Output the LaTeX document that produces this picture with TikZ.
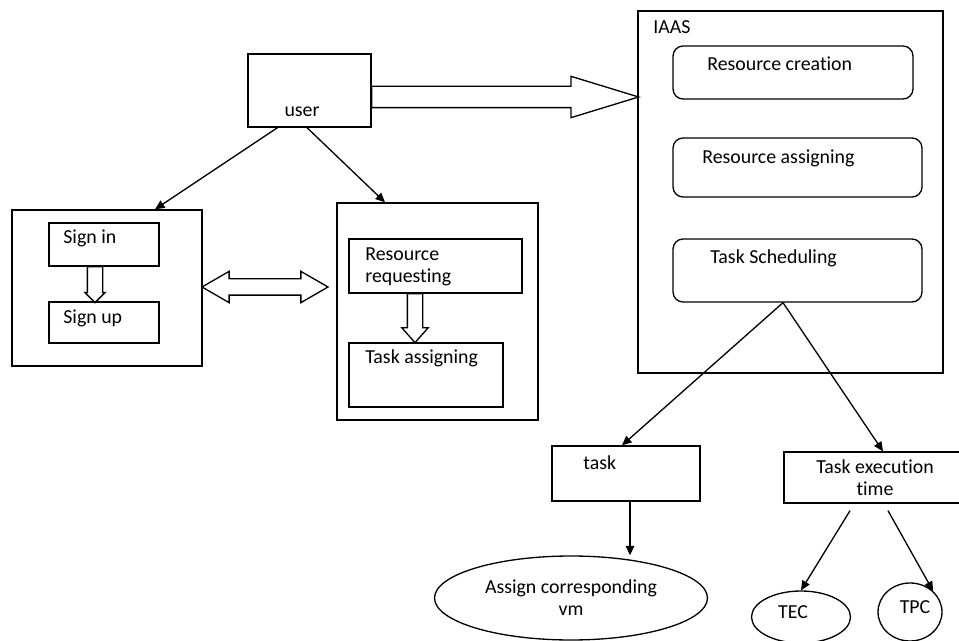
\documentclass[tikz,border=0pt]{standalone}
\usepackage{fontspec}
\setmainfont{Carlito}[Ligatures=NoCommon]
\usepackage{tikz}
\usetikzlibrary{arrows.meta,shapes.geometric,shapes.arrows}
\newcommand{\diagfont}{\fontsize{11.3}{12.5}\selectfont}

\begin{document}
\begin{tikzpicture}[
  x=0.02cm, y=-0.02cm,
  box/.style={draw, line width=0.75pt, inner sep=0pt},
  roundbox/.style={box, rounded corners=0.2cm},
  oval/.style={draw, ellipse, line width=0.75pt, inner sep=0pt, align=center, font=\diagfont},
  lbl/.style={inner sep=0pt, font=\diagfont, align=left},
  arr/.style={-{Triangle[length=1.9mm,width=1.7mm]}, line width=0.75pt},
  hollow/.style={draw, single arrow, line width=0.75pt, outer sep=0pt}
]
  \useasboundingbox (0,0) rectangle (959,641);

  % user and the IAAS side
  \node[box, minimum width=2.46cm, minimum height=1.46cm] (user) at (309.5,90.5) {};
  \node[lbl] (usertxt) at (302,112) {user};
  \node[box, minimum width=6.10cm, minimum height=7.24cm] (iaas) at (790.5,192) {};
  \node[lbl, anchor=west] (iaastxt) at (653,27) {IAAS};
  \node[roundbox, minimum width=4.80cm, minimum height=1.06cm] (rescreate) at (793,72.5) {};
  \node[lbl, anchor=west] (rescreatetxt) at (707,64) {Resource creation};
  \node[roundbox, minimum width=4.98cm, minimum height=1.18cm] (resassign) at (797.5,167.5) {};
  \node[lbl, anchor=west] (resassigntxt) at (702,158) {Resource assigning};
  \node[roundbox, minimum width=4.98cm, minimum height=1.26cm] (tasksched) at (797.5,270.5) {};
  \node[lbl, anchor=west] (taskschedtxt) at (710,258) {Task Scheduling};

  % sign in / sign up
  \node[box, minimum width=3.80cm, minimum height=3.12cm] (signbox) at (107,288) {};
  \node[box, minimum width=2.20cm, minimum height=0.86cm] (signin) at (104,244.5) {};
  \node[lbl, anchor=west] (signintxt) at (63,238) {Sign in};
  \node[box, minimum width=2.20cm, minimum height=0.82cm] (signup) at (104,322.5) {};
  \node[lbl, anchor=west] (signuptxt) at (63,318) {Sign up};

  % requesting side
  \node[box, minimum width=4.02cm, minimum height=4.34cm] (midbox) at (437.5,311.5) {};
  \node[box, minimum width=3.46cm, minimum height=1.08cm] (resreq) at (435.5,266) {};
  \node[lbl, anchor=west] (resreqtxt) at (365,267) {Resource\\requesting};
  \node[box, minimum width=3.08cm, minimum height=1.28cm] (taskassign) at (426,375) {};
  \node[lbl, anchor=west] (taskassigntxt) at (365,358) {Task assigning};

  % lower part
  \node[box, minimum width=2.96cm, minimum height=1.10cm] (task) at (626,473.5) {};
  \node[lbl, anchor=west] (tasktxt) at (583,463) {task};
  \node[box, minimum width=3.64cm, minimum height=1.02cm, align=center, font=\diagfont] (exectime) at (875,477.5) {Task execution\\time};
  \node[oval, minimum width=5.46cm, minimum height=1.68cm] (vm) at (571,598) {Assign corresponding\\vm};
  \node[oval, minimum width=1.98cm, minimum height=1.04cm] (tec) at (801,617) {};
  \node[lbl] (tectxt) at (793,612) {TEC};
  \node[oval, minimum width=1.28cm, minimum height=1.16cm] (tpc) at (910,612) {};
  \node[lbl] (tpctxt) at (915,607) {TPC};

  % block arrows
  \node[hollow, minimum height=5.34cm, single arrow head extend=0.2cm, single arrow tip angle=34, inner sep=0.2cm, anchor=tail] (bigarrow) at ([yshift=-0.13cm]user.east) {};
  \node[draw, double arrow, line width=0.75pt, minimum height=2.52cm, double arrow head extend=0.15cm, double arrow tip angle=60, inner sep=0.15cm] (linkarrow) at (265,287) {};
  \node[hollow, shape border rotate=270, minimum height=0.72cm, single arrow head extend=0.05cm, single arrow tip angle=90, inner sep=0.14cm, anchor=tail] (signarrow) at ([xshift=-0.18cm]signin.south) {};
  \node[hollow, shape border rotate=270, minimum height=0.98cm, single arrow head extend=0.11cm, single arrow tip angle=83, inner sep=0.14cm, anchor=tail] (reqarrow) at ([xshift=-0.41cm]resreq.south) {};

  % connectors
  \draw[arr] ([xshift=-0.64cm]user.south) -- ([xshift=0.96cm]signbox.north);
  \draw[arr] ([xshift=-0.05cm]user.south) -- ([xshift=-1.05cm]midbox.north);
  \coordinate (fork) at ([xshift=-0.29cm]tasksched.south);
  \draw[arr] (fork) -- ([xshift=-0.08cm]task.north);
  \draw[arr] (fork) -- ([xshift=0.16cm]exectime.north);
  \coordinate (drop) at ([xshift=0.08cm]task.south);
  \draw[arr] (drop) -- (drop |- vm.north);
  \draw[arr] ([xshift=-0.5cm,yshift=-0.14cm]exectime.south) -- (tec.north);
  \draw[arr] ([xshift=0.26cm,yshift=-0.14cm]exectime.south) -- (tpc.north east);
\end{tikzpicture}
\end{document}
